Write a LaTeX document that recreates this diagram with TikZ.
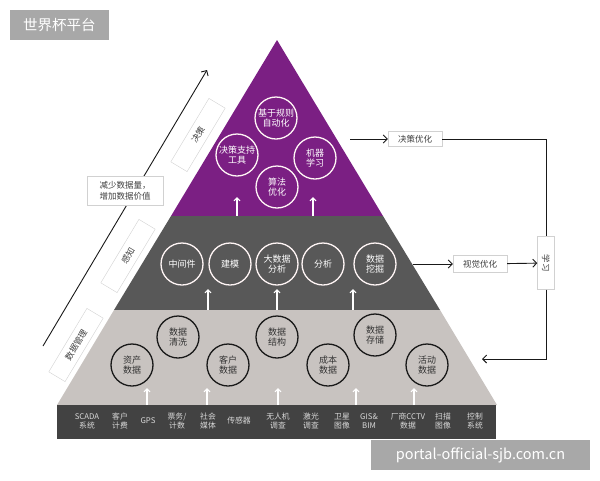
\documentclass[tikz,border=0pt]{standalone}
\usepackage{fontspec}
\setmainfont{Noto Sans CJK SC}
\usepackage{graphicx}
\usetikzlibrary{arrows.meta}

\definecolor{toppurple}{HTML}{7B1F83}
\definecolor{middark}{HTML}{585858}
\definecolor{lowgrey}{HTML}{C8C3C0}
\definecolor{barblack}{HTML}{424242}
\definecolor{tagfill}{HTML}{A8A8A8}

\begin{document}
\begin{tikzpicture}[x=1pt, y=-1pt,
	ring/.style={circle, line width=1.3pt, minimum size=42pt, inner sep=0pt, align=center, font=\fontsize{9}{10.5}\selectfont},
	wring/.style={ring, draw=white!85!pink, text=white},
	kring/.style={ring, draw=black!90, text=black!80},
	srclabel/.style={text=white!85!black, align=center, font=\fontsize{7.8}{9.2}\selectfont},
	tagbox/.style={draw=black!18, fill=white, text=black!75, inner sep=2pt, align=center, font=\fontsize{8.5}{10.5}\selectfont},
	slantbox/.style={tagbox, rotate=59, minimum width=74pt, minimum height=19pt},
	warr/.style={white, line width=1.1pt, -{Straight Barb[length=3pt]}},
	karr/.style={black!90, line width=0.9pt, -{Straight Barb[length=4pt]}}]

	\useasboundingbox (0,0) rectangle (600,480);

	\coordinate (apex) at (277,40);
	\coordinate (pL) at (171,216);
	\coordinate (pR) at (383,216);
	\coordinate (dL) at (114,310);
	\coordinate (dR) at (440,310);
	\coordinate (gL) at (57,405);
	\coordinate (gR) at (497,405);

	% pyramid layers
	\fill[toppurple] (apex) -- (pL) -- (pR) -- cycle;
	\fill[middark] (pL) -- (dL) -- (dR) -- (pR) -- cycle;
	\fill[lowgrey] (dL) -- (gL) -- (gR) -- (dR) -- cycle;
	\fill[barblack] (57,405) rectangle (496,439);

	% top layer
	\node[wring] (rule) at (276,118) {基于规则\\自动化};
	\node[wring] (tool) at (237,155) {决策支持\\工具};
	\node[wring] (ml) at (315,158) {机器\\学习};
	\node[wring] (algo) at (277,187) {算法\\优化};

	% middle layer
	\node[wring] (mw) at (182,264) {中间件};
	\node[wring] (model) at (230,264) {建模};
	\node[wring] (bda) at (277,264) {大数据\\分析};
	\node[wring] (ana) at (323,264) {分析};
	\node[wring] (mine) at (375,264) {数据\\挖掘};

	% bottom layer
	\node[kring] (asset) at (132,365) {资产\\数据};
	\node[kring] (clean) at (178,337) {数据\\清洗};
	\node[kring] (cust) at (228,365) {客户\\数据};
	\node[kring] (struct) at (277,337) {数据\\结构};
	\node[kring] (cost) at (328,365) {成本\\数据};
	\node[kring] (store) at (375,335) {数据\\存储};
	\node[kring] (act) at (427,365) {活动\\数据};

	% sources
	\node[srclabel] (s1) at (87,421) {SCADA\\系统};
	\node[srclabel] (s2) at (120,421) {客户\\计费};
	\node[srclabel] (s3) at (148,421) {GPS};
	\node[srclabel] (s4) at (177,421) {票务/\\计数};
	\node[srclabel] (s5) at (208,421) {社会\\媒体};
	\node[srclabel] (s6) at (239,421) {传感器};
	\node[srclabel] (s7) at (278,421) {无人机\\调查};
	\node[srclabel] (s8) at (311,421) {激光\\调查};
	\node[srclabel] (s9) at (342,421) {卫星\\图像};
	\node[srclabel] (s10) at (369,421) {GIS\&\\BIM};
	\node[srclabel] (s11) at (408,421) {厂商CCTV\\数据};
	\node[srclabel] (s12) at (443,421) {扫描\\图像};
	\node[srclabel] (s13) at (475,421) {控制\\系统};

	% white arrows between layers
	\coordinate (a1) at (147,405); \coordinate (a1t) at (147,388);
	\coordinate (a2) at (207,405); \coordinate (a2t) at (207,388);
	\coordinate (a3) at (278,405); \coordinate (a3t) at (278,388);
	\coordinate (a4) at (356,405); \coordinate (a4t) at (356,388);
	\coordinate (a5) at (414,405); \coordinate (a5t) at (414,388);
	\draw[warr] (a1) -- (a1t);
	\draw[warr] (a2) -- (a2t);
	\draw[warr] (a3) -- (a3t);
	\draw[warr] (a4) -- (a4t);
	\draw[warr] (a5) -- (a5t);

	\coordinate (b1) at (208,310); \coordinate (b1t) at (208,289);
	\coordinate (b2) at (277,310); \coordinate (b2t) at (277,289);
	\coordinate (b3) at (353,310); \coordinate (b3t) at (353,289);
	\draw[warr] (b1) -- (b1t);
	\draw[warr] (b2) -- (b2t);
	\draw[warr] (b3) -- (b3t);

	\coordinate (c1) at (237,216); \coordinate (c1t) at (237,197);
	\coordinate (c2) at (313,216); \coordinate (c2t) at (313,197);
	\draw[warr] (c1) -- (c1t);
	\draw[warr] (c2) -- (c2t);

	% left side
	\coordinate (upL) at (43,346);
	\coordinate (upR) at (207,70);
	\draw[karr] (upL) -- (upR);
	\node[slantbox] (lvl3) at (198,135) {决策};
	\node[slantbox] (lvl2) at (128,256) {感知};
	\node[slantbox] (lvl1) at (76,345) {数据管理};
	\node[tagbox, align=left, minimum width=76pt, minimum height=29pt] (less) at (125,191) {减少数据量，\\增加数据价值};

	% right side
	\node[tagbox, minimum width=54pt, minimum height=15pt] (dec) at (415,139) {决策优化};
	\node[tagbox, minimum width=54pt, minimum height=17pt] (vis) at (480,264) {视觉优化};
	\node[tagbox, minimum width=17pt, minimum height=53pt] (learn) at (546,263) {\rotatebox{-90}{学习}};
	\coordinate (decin) at (350,139);
	\coordinate (visin) at (413,264);
	\coordinate (backout) at (482,359);
	\draw[karr] (decin) -- (dec);
	\draw[karr] (visin) -- (vis);
	\draw[karr] (vis) -- (learn);
	\draw[black!90, line width=0.9pt] (dec.east) -| (learn.north);
	\draw[karr] (learn.south) |- (backout);

	% tags
	\node[fill=tagfill, text=white, minimum width=99pt, minimum height=30pt, font=\fontsize{14.5}{16}\selectfont] (title) at (59.5,25) {世界杯平台};
	\node[fill=tagfill, text=white, minimum width=219pt, minimum height=30pt, font=\fontsize{14.5}{16}\selectfont] (site) at (480.5,455) {portal-official-sjb.com.cn};

\end{tikzpicture}
\end{document}
